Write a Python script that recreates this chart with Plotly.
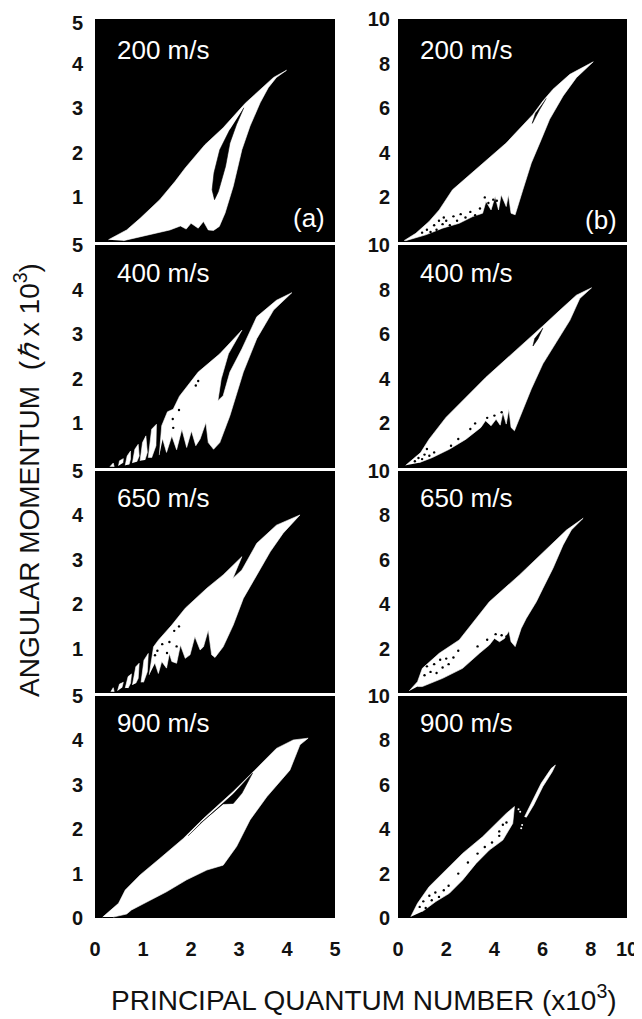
import plotly.graph_objects as go

PAGE_INSET = 8          # the page's own body margin around the figure
W, H = 642 - PAGE_INSET, 1019 - PAGE_INSET
SPEEDS = ["200 m/s", "400 m/s", "650 m/s", "900 m/s"]

# ---- column (a): outlines in (n/1000, l/1000) ----
A1_X = [.28,.66,.94,1.35,1.67,1.88,2.29,2.67,3.13,3.44,3.72,3.99,3.78,3.61,3.44,3.23,3.06,2.88,2.71,2.59,2.47,2.36,2.26,2.15,2.0,1.90,1.78,1.56,1.28,.94,.59]
A1_Y = [.05,.27,.53,.95,1.36,1.66,2.18,2.56,3.11,3.42,3.69,3.85,3.69,3.46,3.12,2.60,2.07,1.25,.65,.35,.26,.27,.46,.31,.42,.29,.36,.27,.2,.12,.03]
A1_GAP_X = [3.10,2.95,2.81,2.72,2.57,2.49,2.44,2.48,2.60,2.81]
A1_GAP_Y = [3.01,2.64,2.22,1.70,1.13,.95,1.17,1.55,2.07,2.52]

A2_X = [.31,.38,.40,None,.49,.51,.59,.58,None,.63,.67,.74,.74,.71,None,.78,.83,.90,.92,.87,None,.94,.99,1.06,1.09,1.04,None,1.11,1.18,1.28,1.27,1.18,None,
        1.34,1.39,1.51,1.63,1.76,1.88,2.15,2.60,3.06,2.78,2.63,2.56,2.67,2.81,3.06,3.37,3.78,4.10,3.72,3.37,3.09,2.81,2.60,2.47,2.36,2.31,2.19,2.10,2.01,1.91,1.81,1.70,1.60,1.49,1.41]
A2_Y = [.03,.11,.03,None,.05,.16,.21,.11,None,.06,.27,.38,.20,.08,None,.11,.42,.53,.27,.14,None,.16,.57,.72,.35,.18,None,.23,.87,.98,.50,.23,None,
        .29,.95,1.26,1.32,1.61,1.77,2.15,2.56,3.09,2.56,2.0,1.51,1.62,2.15,2.67,3.39,3.76,3.93,3.54,2.90,2.15,1.17,.57,.42,.57,1.02,.65,.50,.83,.46,.87,.41,.72,.35,.65]
A2_SPECK_X = [1.62,1.63,1.75,2.15,2.10]
A2_SPECK_Y = [1.10,.90,1.30,1.95,1.85]

A3_X = [.33,.38,.40,None,.47,.51,.59,.56,None,.63,.69,.76,.74,.69,None,.78,.85,.92,.90,.85,None,.96,1.02,1.11,1.09,1.01,None,
        1.13,1.22,1.32,1.60,1.88,2.33,2.67,3.06,2.87,3.06,3.37,3.78,4.27,3.92,3.65,3.37,3.09,2.88,2.67,2.50,2.43,2.36,2.26,2.19,2.08,1.98,1.88,1.78,1.70,1.60,1.55,1.49,1.39,1.32,1.25]
A3_Y = [.03,.12,.03,None,.05,.20,.24,.12,None,.11,.37,.43,.22,.11,None,.18,.59,.67,.33,.22,None,.24,.74,.89,.48,.24,None,
        .41,1.04,1.19,1.53,1.91,2.36,2.66,3.07,2.58,2.77,3.37,3.78,4.01,3.60,3.18,2.66,2.13,1.53,1.04,.80,.86,1.42,1.04,.97,1.27,.86,.78,1.08,.67,.71,.89,.56,.71,.44,.67]
A3_SPECK_X = [1.40,1.50,1.55,1.65,1.70,1.75,1.25,1.30]
A3_SPECK_Y = [1.10,.90,1.15,1.40,1.05,1.50,.85,.95]

A4_X = [.16,.49,.63,.94,1.35,1.84,2.26,2.88,3.33,3.78,4.13,4.44,4.27,4.06,3.58,3.23,2.95,2.67,2.33,1.91,1.49,1.08,.76,.66,.38]
A4_Y = [.02,.33,.63,.97,1.34,1.79,2.24,2.85,3.33,3.82,4.01,4.05,3.90,3.33,2.73,2.21,1.61,1.19,1.08,.86,.59,.37,.18,.09,.02]
A4_GAP_X = [1.94,2.26,2.88,3.28,3.06,2.88,2.67,2.19]
A4_GAP_Y = [1.85,2.19,2.79,3.26,2.81,2.58,2.57,2.13]

# ---- column (b) ----
B1_X = [.25,.74,1.29,1.71,2.26,3.51,4.49,5.60,6.01,6.43,7.13,8.10,7.40,6.85,6.29,5.94,5.53,5.18,4.86,4.69,4.58,4.49,4.28,4.17,4.03,3.86,3.65,3.51,3.10,2.54,1.85,1.15,.32]
B1_Y = [.06,.39,.92,1.44,2.34,3.54,4.44,5.72,6.32,6.85,7.52,8.08,7.37,6.55,5.50,4.59,3.54,2.34,1.22,1.29,2.12,1.59,2.12,1.44,2.04,1.44,1.82,1.29,1.14,.84,.62,.32,.06]
B1_GAP_X = [6.15,5.88,5.57,5.71]
B1_GAP_Y = [6.44,5.95,5.32,5.80]
B1_SPECK_X = [1.0,1.2,1.35,1.5,1.6,1.7,1.85,1.9,2.0,2.15,2.3,2.45,2.6,2.8,3.0,3.2,3.4,3.6,3.75,3.95,4.1]
B1_SPECK_Y = [.42,.55,.45,.75,.55,.95,.8,1.1,.95,.75,1.15,.95,1.25,1.1,1.35,1.2,1.5,2.0,1.75,1.9,1.85]

B2_X = [.32,.94,1.29,1.99,3.65,4.90,6.01,6.71,7.40,8.03,7.54,7.13,6.50,6.01,5.53,5.18,4.83,4.69,4.60,4.49,4.35,4.24,4.07,3.86,3.63,3.44,2.82,2.13,1.43,.88]
B2_Y = [.12,.69,1.29,2.27,4.07,5.27,6.37,7.07,7.75,8.08,7.60,6.62,5.50,4.67,3.54,2.64,1.67,1.82,2.64,1.97,2.49,1.92,2.19,1.89,2.12,1.82,1.29,.84,.47,.24]
B2_GAP_X = [6.01,5.81,5.60,5.68]
B2_GAP_Y = [6.28,5.80,5.47,5.83]
B2_SPECK_X = [.7,.85,1.0,1.1,1.2,1.3,1.5,2.2,2.5,3.0,3.2,3.7,4.0,4.3]
B2_SPECK_Y = [.3,.45,.4,.6,.85,.55,.7,1.0,1.3,1.75,2.0,2.25,2.35,2.5]

B3_X = [.46,.81,1.01,1.71,2.54,3.24,3.79,5.04,6.29,6.99,7.68,7.19,6.85,6.43,6.01,5.74,5.32,5.11,4.86,4.69,4.60,4.42,4.21,4.00,3.79,3.38,2.68,1.85,1.01,.81]
B3_Y = [.09,.51,1.11,1.79,2.39,3.36,4.11,5.32,6.59,7.34,7.87,7.34,6.67,5.62,4.71,4.11,3.36,2.91,2.09,2.31,2.79,2.46,2.31,2.46,2.16,1.79,1.11,.66,.29,.29]
B3_SPECK_X = [1.1,1.2,1.35,1.5,1.6,1.75,1.85,2.0,2.1,2.3,2.5,3.3,3.7,4.05,4.3,4.5]
B3_SPECK_Y = [.8,1.2,.95,1.3,.9,1.5,1.15,1.55,1.3,1.6,1.9,2.1,2.4,2.65,2.6,2.55]

B4_X = [.53,.81,1.29,1.85,2.68,3.51,4.49,4.83,4.76,4.35,3.79,3.24,2.68,2.13,1.57,1.01,None,5.25,5.57,5.94,6.36,6.53,6.40,6.01,5.63,5.32]
B4_Y = [.06,.66,1.41,2.01,2.91,3.66,4.71,5.02,4.26,3.51,3.06,2.46,1.71,1.11,.74,.29,None,4.56,5.24,6.07,6.74,6.89,6.59,5.92,5.09,4.53]
B4_SPECK_X = [.9,1.05,1.15,1.3,1.4,1.55,1.7,1.9,2.1,2.5,2.9,3.3,3.6,3.9,4.2,4.35,4.5,4.2]
B4_SPECK_Y = [.5,.75,.45,1.0,.8,1.15,.95,1.25,1.45,2.0,2.5,2.9,3.2,3.4,3.7,4.2,4.3,3.9]
B4_DOT_X = [5.11,5.15,5.07,5.0]
B4_DOT_Y = [4.04,4.19,4.79,4.9]

# ---- axes ----
LEFT_TICKS_X = [0, 1, 2, 3, 4, 5]
RIGHT_TICKS_X = [0, 2, 4, 6, 8, 9.5]
RIGHT_TEXT_X = ["0", "2", "4", "6", "8", "10"]

PANELS_TOP = [19, 245, 471, 696]
PANELS_BOT = [242, 468, 693, 918]
COL_L = [95, 398]
COL_R = [335, 627]
FONT = "Liberation Sans"

fig = go.Figure()

def axid(letter, n):
    return letter if n == 1 else "%s%d" % (letter, n)

def add_poly(n, xs, ys, color):
    fig.add_trace(go.Scatter(x=xs, y=ys, xaxis=axid("x", n), yaxis=axid("y", n), mode="lines",
                             fill="toself", fillcolor=color,
                             line=dict(color=color, width=0.6), hoverinfo="skip", showlegend=False))

def add_dots(n, xs, ys, color, size=2.4):
    fig.add_trace(go.Scatter(x=xs, y=ys, xaxis=axid("x", n), yaxis=axid("y", n), mode="markers",
                             marker=dict(color=color, size=size), hoverinfo="skip", showlegend=False))

add_poly(1, A1_X, A1_Y, "white"); add_poly(1, A1_GAP_X, A1_GAP_Y, "black")
add_poly(2, A2_X, A2_Y, "white"); add_dots(2, A2_SPECK_X, A2_SPECK_Y, "black")
add_poly(3, A3_X, A3_Y, "white"); add_dots(3, A3_SPECK_X, A3_SPECK_Y, "black")
add_poly(4, A4_X, A4_Y, "white"); add_poly(4, A4_GAP_X, A4_GAP_Y, "black")
add_poly(5, B1_X, B1_Y, "white"); add_poly(5, B1_GAP_X, B1_GAP_Y, "black"); add_dots(5, B1_SPECK_X, B1_SPECK_Y, "black")
add_poly(6, B2_X, B2_Y, "white"); add_poly(6, B2_GAP_X, B2_GAP_Y, "black"); add_dots(6, B2_SPECK_X, B2_SPECK_Y, "black")
add_poly(7, B3_X, B3_Y, "white"); add_dots(7, B3_SPECK_X, B3_SPECK_Y, "black")
add_poly(8, B4_X, B4_Y, "white"); add_dots(8, B4_SPECK_X, B4_SPECK_Y, "black"); add_dots(8, B4_DOT_X, B4_DOT_Y, "white", 2)

tick_font = dict(family=FONT, size=20, color="#111111", weight="bold")
layout = dict(width=W, height=H, margin=dict(l=0, r=0, t=0, b=0),
              paper_bgcolor="white", plot_bgcolor="black", showlegend=False,
              font=dict(family=FONT))

for col in range(2):
    for row in range(4):
        n = col * 4 + row + 1
        dom_x = [(COL_L[col] - PAGE_INSET) / W, (COL_R[col] - PAGE_INSET) / W]
        dom_y = [1 - (PANELS_BOT[row] - PAGE_INSET) / H, 1 - (PANELS_TOP[row] - PAGE_INSET) / H]
        bottom = row == 3
        xa = dict(domain=dom_x, anchor=axid("y", n), showgrid=False, zeroline=False, automargin=False,
                  range=[0, 5] if col == 0 else [0, 9.5], showticklabels=bottom,
                  tickvals=LEFT_TICKS_X if col == 0 else RIGHT_TICKS_X,
                  ticktext=[str(v) for v in LEFT_TICKS_X] if col == 0 else RIGHT_TEXT_X,
                  ticks="outside" if bottom else "", ticklen=13, tickcolor="white", tickfont=tick_font)
        if col == 0:
            ytv = [1, 2, 3, 4, 4.9] if row == 0 else ([0, 1, 2, 3, 4, 5] if bottom else [1, 2, 3, 4, 5])
            ytt = ["1", "2", "3", "4", "5"] if row == 0 else ([str(v) for v in ytv])
            yr = [0, 5]
        else:
            ytv = [0, 2, 4, 6, 8, 10] if bottom else [2, 4, 6, 8, 10]
            ytt = [str(v) for v in ytv]
            yr = [0, 10]
        ya = dict(domain=dom_y, anchor=axid("x", n), showgrid=False, zeroline=False, automargin=False, range=yr,
                  tickvals=ytv, ticktext=ytt, ticks="outside", ticklen=7 if col == 0 else 3,
                  tickcolor="white", tickfont=tick_font)
        layout[axid("xaxis", n)] = xa
        layout[axid("yaxis", n)] = ya

def note(text, n, px, py, font, **kw):
    """Annotation anchored to one panel's domain, so it cannot push the margins."""
    col, row = (n - 1) // 4, (n - 1) % 4
    return dict(text=text, xref=axid("x", n) + " domain", yref=axid("y", n) + " domain",
                x=(px - COL_L[col]) / (COL_R[col] - COL_L[col]),
                y=(PANELS_BOT[row] - py) / (PANELS_BOT[row] - PANELS_TOP[row]),
                showarrow=False, xanchor="center", yanchor="middle", font=font, **kw)

ann = []
LABEL_Y = [50, 273, 498, 723]
speed_font = dict(family=FONT, size=26, color="white")
for row, s in enumerate(SPEEDS):
    ann.append(note(s, row + 1, 163, LABEL_Y[row], speed_font))
    ann.append(note(s, row + 5, 466, LABEL_Y[row], speed_font))
ann.append(note("(a)", 1, 309, 218, speed_font))
ann.append(note("(b)", 5, 601, 220, speed_font))
title_font = dict(family=FONT, size=28, color="#111111")
ann.append(note("PRINCIPAL QUANTUM NUMBER (x10<sup>3</sup>)", 4, 364, 998, title_font))
ann.append(note("ANGULAR MOMENTUM  (<i>ℏ</i> x 10<sup>3</sup>)", 3, 27, 480, title_font, textangle=-90))
layout["annotations"] = ann

fig.update_layout(**layout)
fig.write_html("out.html")
